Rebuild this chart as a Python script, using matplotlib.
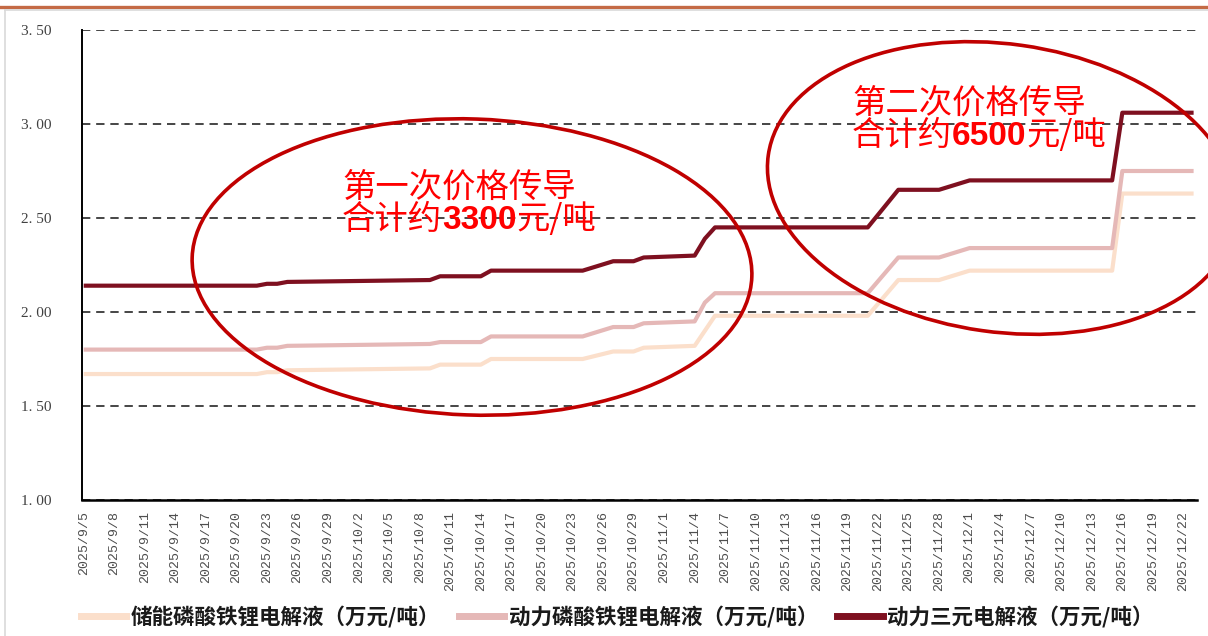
import matplotlib
matplotlib.use("Agg")
import matplotlib.pyplot as plt
import matplotlib.dates as mdates
import matplotlib.ticker as mticker
from matplotlib.patches import Ellipse
from matplotlib.lines import Line2D
from matplotlib.transforms import IdentityTransform
from matplotlib.offsetbox import TextArea, HPacker, AnnotationBbox
import pandas as pd

CJK = ['Noto Sans CJK SC', 'DejaVu Sans']
plt.rcParams['font.family'] = CJK

# Electrolyte prices (万元/吨) on the trading days where the price changed
dates = pd.to_datetime([
    "2025-09-05", "2025-09-22", "2025-09-23", "2025-09-24", "2025-09-25",
    "2025-10-09", "2025-10-10", "2025-10-14", "2025-10-15", "2025-10-24",
    "2025-10-27", "2025-10-29", "2025-10-30", "2025-11-04", "2025-11-05",
    "2025-11-06", "2025-11-21", "2025-11-24", "2025-11-28", "2025-12-01",
    "2025-12-15", "2025-12-16", "2025-12-23",
])
storage_lfp = [1.67, 1.67, 1.68, 1.68, 1.69, 1.70, 1.72, 1.72, 1.75, 1.75,
               1.79, 1.79, 1.81, 1.82, 1.90, 1.98, 1.98, 2.17, 2.17, 2.22,
               2.22, 2.63, 2.63]
power_lfp = [1.80, 1.80, 1.81, 1.81, 1.82, 1.83, 1.84, 1.84, 1.87, 1.87,
             1.92, 1.92, 1.94, 1.95, 2.05, 2.10, 2.10, 2.29, 2.29, 2.34,
             2.34, 2.75, 2.75]
ternary = [2.14, 2.14, 2.15, 2.15, 2.16, 2.17, 2.19, 2.19, 2.22, 2.22,
           2.27, 2.27, 2.29, 2.30, 2.39, 2.45, 2.45, 2.65, 2.65, 2.70,
           2.70, 3.06, 3.06]

series_names = ["储能磷酸铁锂电解液（万元/吨）",
                "动力磷酸铁锂电解液（万元/吨）",
                "动力三元电解液（万元/吨）"]
series_colors = ["#FBDFCB", "#E5B8B7", "#7E1020"]
y_ticks = [1.00, 1.50, 2.00, 2.50, 3.00, 3.50]
x_ticks = pd.date_range("2025-09-05", "2025-12-22", freq="3D")

note1 = ("第一次价格传导", "合计约", "3300", "元/吨")
note2 = ("第二次价格传导", "合计约", "6500", "元/吨")

W, H = 1208, 636
fig = plt.figure(figsize=(W / 100, H / 100), dpi=100)
fig.patch.set_facecolor("white")

ax = fig.add_axes([82 / W, 1 - 500 / H, (1197 - 82) / W, 470 / H])

for vals, name, col in zip([storage_lfp, power_lfp, ternary], series_names, series_colors):
    ax.plot(dates, vals, color=col, lw=3.0, solid_joinstyle="round",
            solid_capstyle="butt", label=name, zorder=3)

ax.set_ylim(1.0, 3.5)
ax.set_xlim(pd.Timestamp("2025-09-04 20:00"), pd.Timestamp("2025-12-23 08:00"))
ax.set_yticks(y_ticks)
ax.yaxis.set_major_formatter(mticker.FuncFormatter(lambda v, p: f"{v:.2f}".replace(".", ". ")))
ax.set_xticks(x_ticks)
ax.xaxis.set_major_formatter(mticker.FuncFormatter(
    lambda v, p: (lambda d: f"{d.year}/{d.month}/{d.day}")(mdates.num2date(v))))

for lab in ax.get_yticklabels():
    lab.set_fontfamily("Liberation Serif")
    lab.set_fontsize(11)
    lab.set_color("#404040")
for lab in ax.get_xticklabels():
    lab.set_fontfamily("Liberation Mono")
    lab.set_fontsize(9.5)
    lab.set_color("#4d4d4d")
    lab.set_rotation(90)

ax.tick_params(axis="y", length=0, pad=22)
ax.tick_params(axis="x", length=0, pad=8)

ax.yaxis.grid(True, linestyle=(0, (5, 3.5)), color="#262626", lw=1.2)
ax.set_axisbelow(True)
for s in ("top", "right"):
    ax.spines[s].set_visible(False)
ax.spines["left"].set_color("black")
ax.spines["left"].set_linewidth(1.4)
ax.spines["bottom"].set_color("black")
ax.spines["bottom"].set_linewidth(1.8)

# Highlight ellipses around the two price pass-through phases (pixel coords)
for (cx, cy, w, h, ang) in [(472, 267, 560, 296, -2), (1002, 188, 472, 288, -8)]:
    e = Ellipse((cx, H - cy), w, h, angle=ang, transform=IdentityTransform(),
                fill=False, edgecolor="#C00000", lw=2.6, clip_on=False, zorder=5)
    fig.add_artist(e)

RED = "#FF0000"


def add_note(parts, x_px, y_px):
    title, pre, num, post = parts
    cjk = dict(color=RED, fontsize=24, family=CJK)
    l1 = TextArea(title, textprops=cjk)
    fig.add_artist(AnnotationBbox(l1, (x_px / W, 1 - y_px / H), xycoords="figure fraction",
                                  box_alignment=(0, 0.5), frameon=False, pad=0, zorder=6))
    l2 = HPacker(children=[TextArea(pre, textprops=cjk),
                           TextArea(num, textprops=dict(color=RED, fontsize=24,
                                                        family="Liberation Sans",
                                                        weight="bold")),
                           TextArea(post, textprops=cjk)],
                 align="baseline", pad=0, sep=0)
    fig.add_artist(AnnotationBbox(l2, (x_px / W, 1 - (y_px + 33) / H), xycoords="figure fraction",
                                  box_alignment=(0, 0.5), frameon=False, pad=0, zorder=6))


add_note(note1, 342, 187)
add_note(note2, 852, 103)

# Page frame and header rule
fig.add_artist(Line2D([0, W], [H - 7, H - 7], transform=IdentityTransform(),
                      color="#C46A45", lw=2.4))
fig.add_artist(Line2D([5, W], [H - 10, H - 10], transform=IdentityTransform(),
                      color="#D9D9D9", lw=1.2))
fig.add_artist(Line2D([5, 5], [0, H - 10], transform=IdentityTransform(),
                      color="#D9D9D9", lw=1.2))

handles = [Line2D([], [], color=c, lw=5) for c in series_colors]
fig.legend(handles, series_names, loc="center", bbox_to_anchor=(617 / W, 1 - 617 / H),
           ncol=3, frameon=False, handlelength=2.1, handletextpad=0.2,
           columnspacing=0.9, prop=dict(family=CJK, size=15.5, weight="bold"),
           labelcolor="#1a1a1a")

fig.savefig("out.png", dpi=100, facecolor="white")
